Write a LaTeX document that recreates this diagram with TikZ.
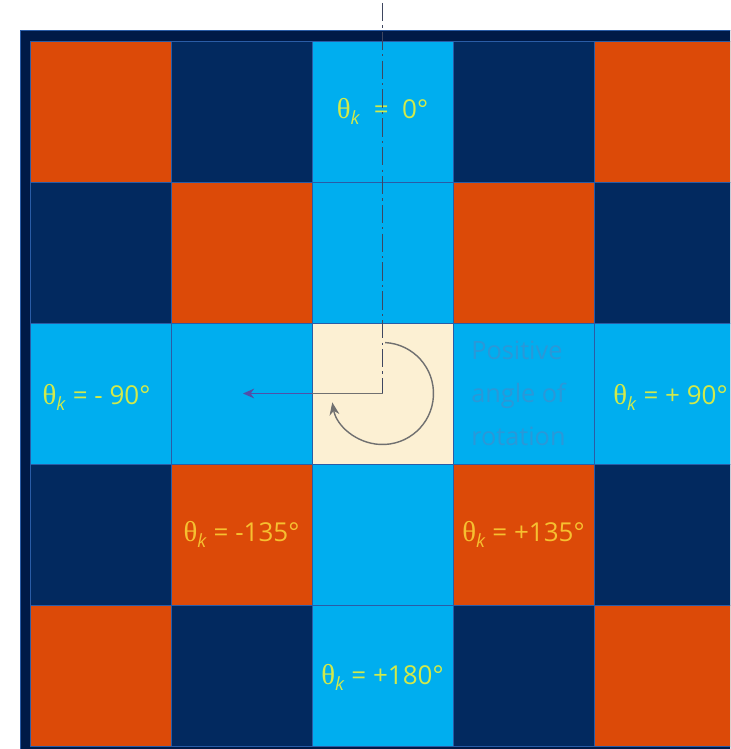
\documentclass[tikz,border=0pt]{standalone}
\usepackage{fontspec}
\setmainfont{Open Sans}
\newfontfamily\grkfont{Liberation Serif}
\usetikzlibrary{arrows.meta}
\definecolor{tileOrange}{HTML}{DC4A08}
\definecolor{tileNavy}{HTML}{02295F}
\definecolor{tileSky}{HTML}{00AEEF}
\definecolor{tileCream}{HTML}{FCF0D3}
\definecolor{frameNavy}{HTML}{001A47}
\definecolor{gridLine}{HTML}{2A5CA6}
\definecolor{labelLime}{HTML}{D2EA4A}
\definecolor{labelGold}{HTML}{F6C030}
\definecolor{noteBlue}{HTML}{2A98D8}
\definecolor{axisGrey}{HTML}{3E4660}
\definecolor{turnGrey}{HTML}{707070}
\definecolor{arrowPurple}{HTML}{5150A8}
\newcommand{\thk}{{\grkfont\fontsize{20.5}{20}\selectfont θ}\textsubscript{\itshape k}}

\begin{document}
\begin{tikzpicture}[x=0.025cm, y=0.025cm,
  tile/.style={draw=gridLine, line width=0.6pt, minimum size=3.525cm, inner sep=0pt, outer sep=0pt},
  angle/.style={font=\fontsize{18.5}{20}\selectfont, inner sep=0pt}]
  \useasboundingbox (0,0) rectangle (730,-749);
  \clip (0,0) rectangle (730,-749);

  % Frame
  \fill[frameNavy, draw=gridLine, line width=0.5pt] (20,-30) rectangle (760,-780);

  % Tiles, row by row from the top
  \foreach \tc [count=\k from 0] in {tileOrange,tileNavy,tileSky,tileNavy,tileOrange,
      tileNavy,tileOrange,tileSky,tileOrange,tileNavy,
      tileSky,tileSky,tileCream,tileSky,tileSky,
      tileNavy,tileOrange,tileSky,tileOrange,tileNavy,
      tileOrange,tileNavy,tileSky,tileNavy,tileOrange}
  {
    \pgfmathtruncatemacro{\row}{div(\k,5)}
    \pgfmathtruncatemacro{\col}{mod(\k,5)}
    \node[tile, fill=\tc] (t\row\col) at ({100.5+141*\col}, {-111.5-141*\row}) {};
  }

  % Angle labels
  \node[angle, text=labelLime] (l0) at (t02) {\thk\ \ =\ \ 0°};
  \node[angle, text=labelLime] (lm90) at ([xshift=-0.1cm, yshift=-0.1cm]t20.center) {\thk\ = - 90°};
  \node[angle, text=labelLime] (lp90) at ([xshift=0.15cm, yshift=-0.1cm]t24.center) {\thk\ = + 90°};
  \node[angle, text=labelGold] (lm135) at (t31) {\thk\ = -135°};
  \node[angle, text=labelGold] (lp135) at (t33) {\thk\ = +135°};
  \node[angle, text=labelLime] (l180) at ([yshift=-0.05cm]t42.center) {\thk\ = +180°};

  % Note
  \node[angle, text=noteBlue, anchor=west, align=left, font=\fontsize{18}{30.5}\selectfont] (note) at ([xshift=0.45cm]t23.west) {Positive\\angle of\\rotation};

  % Reference axis and sense of rotation
  \coordinate (top) at (382.5,-3);
  \coordinate (tip) at (243,-393.5);
  \draw[axisGrey, line width=0.8pt, dash pattern=on 13pt off 3pt on 1.5pt off 3pt] (top) -- (t22.center);
  \draw[turnGrey, line width=0.8pt] (t22.center) -- (t22.west);
  \draw[arrowPurple, line width=0.8pt, -{Stealth[length=8pt, width=7pt]}] (t22.west) -- (tip);
  \draw[turnGrey, line width=1pt, -{Stealth[length=9pt, width=7pt]}] ([shift={(87:51)}]t22.center) arc[start angle=87, end angle=-170, radius=51];
\end{tikzpicture}
\end{document}
